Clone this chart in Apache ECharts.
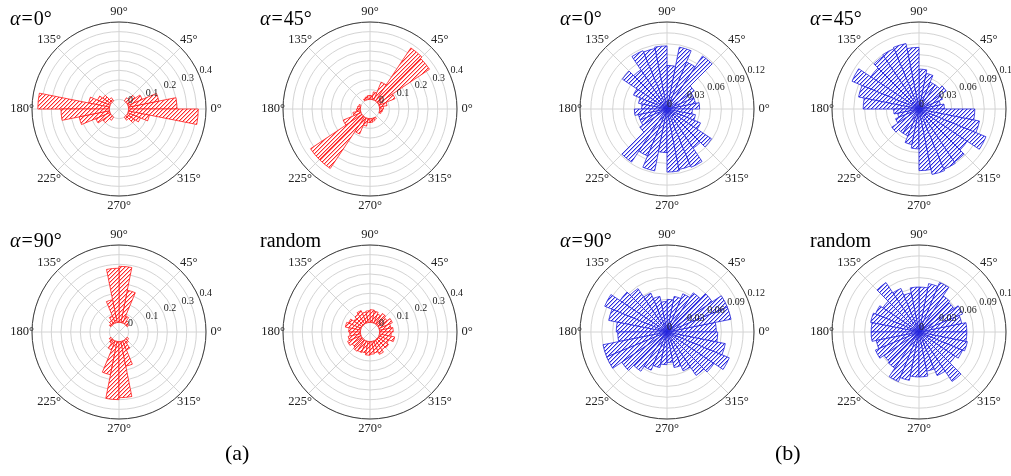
<!DOCTYPE html>
<html>
<head>
<meta charset="utf-8">
<script src="https://cdn.jsdelivr.net/npm/echarts@6/dist/echarts.min.js"></script>
<style>
html,body{margin:0;padding:0;background:#fff;}
#chart{width:1011px;height:476px;}
</style>
</head>
<body>
<div id="chart"></div>
<script>
// ---- data ----
const binStarts = [0,11.25,22.5,33.75,45,56.25,67.5,78.75,90,101.25,112.5,123.75,135,146.25,157.5,168.75,
  180,191.25,202.5,213.75,225,236.25,247.5,258.75,270,281.25,292.5,303.75,315,326.25,337.5,348.75];

const redAlpha0 = [0.25,0.16,0.08,0.05,0.02,0,0,0,0,0,0,0.02,0.05,0.07,0.11,0.37,
  0.25,0.16,0.08,0.05,0.02,0,0,0,0,0,0,0.02,0.05,0.07,0.11,0.36];
const redAlpha45 = [0.02,0.04,0.09,0.32,0.33,0.10,0.04,0.02,0.02,0.015,0.01,0,0,0,0.01,0.015,
  0.02,0.04,0.10,0.32,0.32,0.09,0.04,0.02,0.02,0.015,0.01,0,0,0,0.01,0.015];
const redAlpha90 = [0,0,0,0.01,0.02,0.04,0.17,0.29,0.28,0.12,0.04,0.02,0.01,0,0,0,
  0,0,0,0.01,0.02,0.05,0.175,0.30,0.29,0.13,0.05,0.02,0.01,0,0,0];
const redRandom = [0.07,0.06,0.075,0.055,0.065,0.05,0.06,0.065,0.06,0.055,0.07,0.06,0.05,0.07,0.08,0.06,
  0.055,0.065,0.075,0.06,0.07,0.065,0.06,0.07,0.065,0.06,0.075,0.06,0.065,0.055,0.08,0.06];

const blueAlpha0 = [0.045,0.04,0.04,0.045,0.088,0.07,0.087,0.06,0.087,0.085,0.087,0.065,0.074,0.05,0.04,0.035,
  0.045,0.04,0.04,0.045,0.088,0.07,0.087,0.06,0.087,0.085,0.087,0.065,0.074,0.05,0.04,0.035];
const blueAlpha45 = [0.035,0.03,0.035,0.045,0.04,0.04,0.05,0.055,0.085,0.092,0.09,0.088,0.08,0.1,0.085,0.077,
  0.035,0.03,0.035,0.045,0.04,0.04,0.05,0.055,0.085,0.092,0.09,0.088,0.08,0.1,0.085,0.077];
const blueAlpha90 = [0.068,0.09,0.09,0.075,0.065,0.057,0.05,0.045,0.042,0.05,0.058,0.072,0.078,0.093,0.082,0.07,
  0.068,0.09,0.09,0.075,0.065,0.057,0.05,0.045,0.042,0.05,0.058,0.072,0.078,0.093,0.082,0.07];
const blueRandom = [0.066,0.06,0.065,0.058,0.06,0.074,0.068,0.062,0.062,0.055,0.065,0.082,0.06,0.065,0.068,0.066,
  0.066,0.06,0.065,0.058,0.06,0.074,0.068,0.062,0.062,0.055,0.065,0.082,0.06,0.065,0.068,0.066];

const redRadiusLabels = ['0','0.1','0.2','0.3','0.4'];
const blueRadiusLabels = ['0','0.03','0.06','0.09','0.12'];
const panelTitles = ['{i|α}{e|=}0°','{i|α}{e|=}45°','{i|α}{e|=}90°','random',
  '{i|α}{e|=}0°','{i|α}{e|=}45°','{i|α}{e|=}90°','random'];
const groupLabels = ['(a)','(b)'];

// ---- layout / style ----
const FONT = 'Liberation Serif';
const R = 87;
const panels = [
  {c:[119,109], data:redAlpha0,  kind:'red',  title:[10,10]},
  {c:[370,109], data:redAlpha45, kind:'red',  title:[260,10]},
  {c:[119,332], data:redAlpha90, kind:'red',  title:[10,232]},
  {c:[370,332], data:redRandom,  kind:'red',  title:[260,232]},
  {c:[667,109], data:blueAlpha0, kind:'blue', title:[560,10]},
  {c:[919,109], data:blueAlpha45,kind:'blue', title:[810,10]},
  {c:[667,332], data:blueAlpha90,kind:'blue', title:[560,232]},
  {c:[919,332], data:blueRandom, kind:'blue', title:[810,232]}
];
const scales = {
  red:  {min:-0.05, max:0.4, interval:0.05, labels:redRadiusLabels, color:'#ff1a1a', hatch:[255,40,40]},
  blue: {min:0, max:0.12, interval:0.015, labels:blueRadiusLabels, color:'#2424dc', hatch:[40,40,224]}
};

// pixel-exact "////" hatch tile
function hatch(rgb) {
  const size = 4;
  const c = document.createElement('canvas');
  c.width = size; c.height = size;
  const g = c.getContext('2d');
  g.fillStyle = '#ffffff'; g.fillRect(0,0,size,size);
  for (let y = 0; y < size; y++) {
    const x = (size - 1 - y);
    g.fillStyle = 'rgb(' + rgb.join(',') + ')';
    g.fillRect(x, y, 1, 1);
    g.fillStyle = 'rgba(' + rgb.join(',') + ',0.35)';
    g.fillRect((x + 1) % size, y, 1, 1);
  }
  return c;
}

const polar = [], angleAxis = [], radiusAxis = [], series = [], title = [];
panels.forEach((p, k) => {
  const s = scales[p.kind];
  const base = polar.length;
  const pattern = hatch(s.hatch);
  // grid polar
  polar.push({center: p.c, radius: R});
  angleAxis.push({
    polarIndex: base, type:'value', min:0, max:360, interval:45, startAngle:0, clockwise:false,
    axisLine:{show:true, lineStyle:{color:'#404040', width:1}},
    axisTick:{show:false},
    splitLine:{show:true, lineStyle:{color:'#d4d4d4', width:1}},
    axisLabel:{show:true, margin:6,
      formatter: v => (v >= 360 ? '' : '{b|' + v + '°}'),
      rich:{b:{width:8, height:8, align:'center', verticalAlign:'middle',
        fontFamily:FONT, fontSize:12.5, color:'#222'}}}
  });
  radiusAxis.push({
    polarIndex: base, type:'value', min:s.min, max:s.max, interval:s.interval,
    axisLine:{show:false}, axisTick:{show:false}, axisLabel:{show:false},
    splitLine:{show:true, lineStyle:{color:'#d4d4d4', width:1}}
  });
  // data polar
  polar.push({center: p.c, radius: R});
  angleAxis.push({
    polarIndex: base+1, type:'category', data: binStarts, startAngle:0, clockwise:false,
    boundaryGap:true, show:false
  });
  radiusAxis.push({polarIndex: base+1, type:'value', min:s.min, max:s.max, show:false});
  series.push({
    type:'bar', coordinateSystem:'polar', polarIndex: base+1,
    data: p.data.map(v => (v > 0 ? v : '-')), barCategoryGap:'0%', silent:true, animation:false,
    itemStyle:{color:{image: pattern, repeat:'repeat'}, borderColor:s.color, borderWidth:0.8}
  });
  // label polar (radius tick labels along 22.5 deg)
  polar.push({center: p.c, radius: R});
  angleAxis.push({polarIndex: base+2, type:'value', min:0, max:360, startAngle:22.5, clockwise:false, show:false});
  radiusAxis.push({
    polarIndex: base+2, type:'value', min:s.min, max:s.max, interval:s.interval, z:10,
    axisLine:{show:false}, axisTick:{show:false}, splitLine:{show:false},
    axisLabel:{show:true, margin:0, align:'left', verticalAlign:'bottom', color:'#222', fontFamily:FONT, fontSize:10,
      formatter: v => {
        const t = String(parseFloat(v.toFixed(4)));
        return s.labels.indexOf(t) >= 0 ? t : '';
      }}
  });
  title.push({
    text: panelTitles[k], left: p.title[0], top: p.title[1], padding: 0,
    textStyle:{fontFamily:FONT, fontSize:20, fontWeight:'normal', color:'#000',
      rich:{
        i:{fontFamily:FONT, fontSize:20, fontStyle:'italic', color:'#000'},
        e:{fontFamily:FONT, fontSize:20, color:'#000', padding:[0,1,0,1]}
      }}
  });
});
title.push({text: groupLabels[0], left: 225, top: 443, padding: 0, textStyle:{fontFamily:FONT, fontSize:22, fontWeight:'normal', color:'#000'}});
title.push({text: groupLabels[1], left: 775, top: 443, padding: 0, textStyle:{fontFamily:FONT, fontSize:22, fontWeight:'normal', color:'#000'}});

const chart = echarts.init(document.getElementById('chart'), null, {renderer:'canvas'});
chart.setOption({
  backgroundColor:'#ffffff',
  animation:false,
  title, polar, angleAxis, radiusAxis, series
});
</script>
</body>
</html>
